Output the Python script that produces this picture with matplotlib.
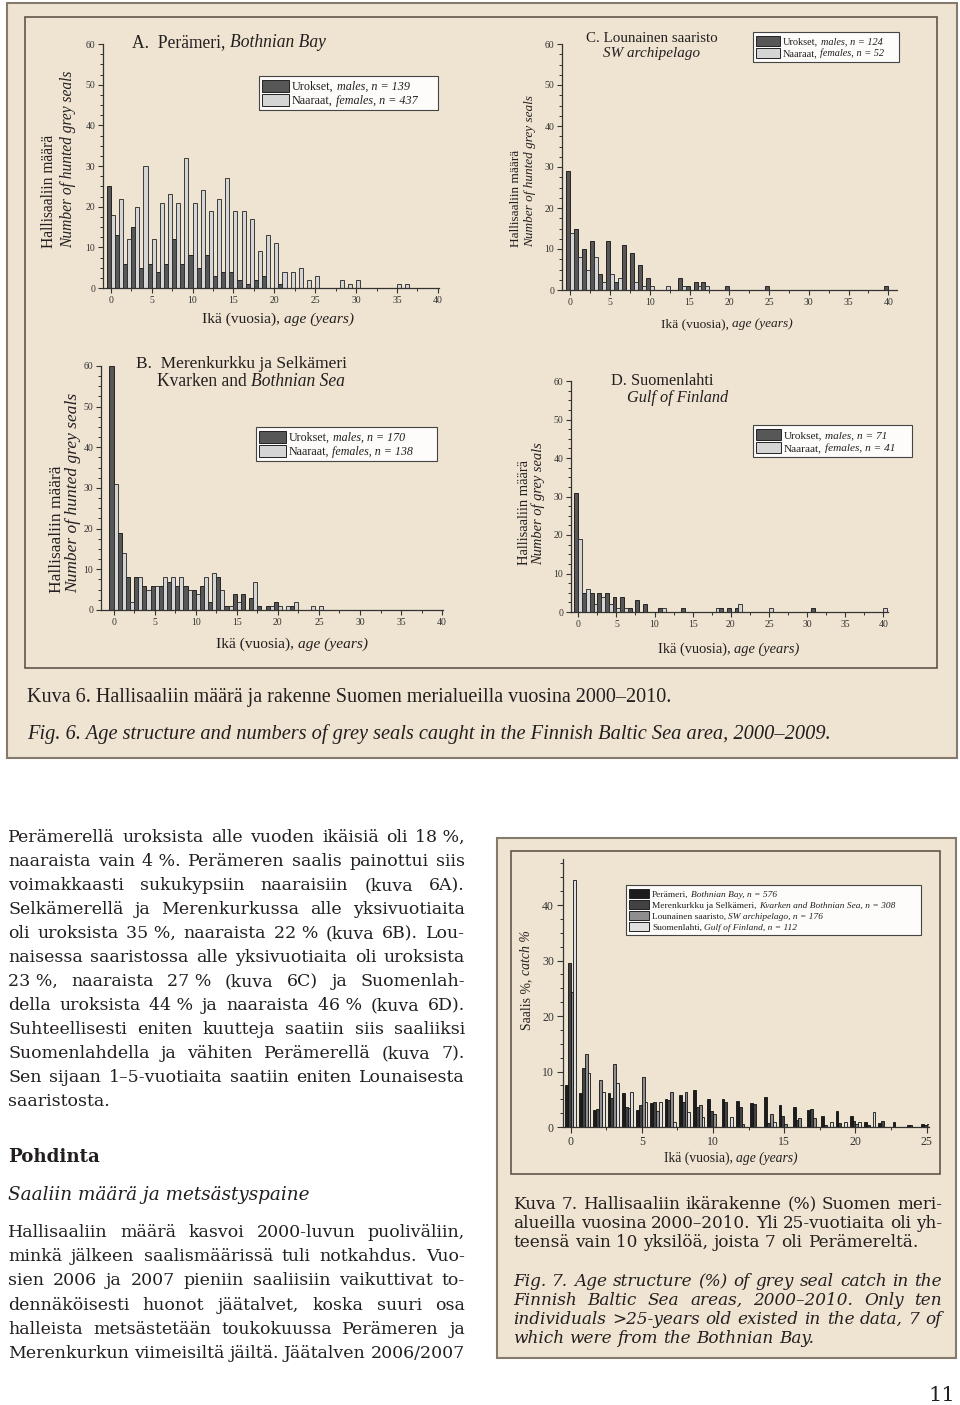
import numpy as np
import matplotlib
matplotlib.use('Agg')
import matplotlib.pyplot as plt
from matplotlib.patches import Rectangle
from matplotlib.ticker import MultipleLocator

# ==========================================
# DATA - hunted grey seals by age (0-40 years)
# ==========================================
ages = np.arange(41)

# A. Perämeri / Bothnian Bay
a_males = [25, 13, 6, 15, 5, 6, 4, 6, 12, 6, 8, 5, 8, 3, 4, 4, 2, 1, 2, 3,
           0, 1, 0, 0, 0, 0, 0, 0, 0, 0, 0, 0, 0, 0, 0, 0, 0, 0, 0, 0, 0]
a_females = [18, 22, 12, 20, 30, 12, 21, 23, 21, 32, 21, 24, 19, 22, 27, 19, 19, 17, 9, 13,
             11, 4, 4, 5, 2, 3, 0, 0, 2, 1, 2, 0, 0, 0, 0, 1, 1, 0, 0, 0, 0]

# B. Merenkurkku ja Selkämeri / Kvarken and Bothnian Sea
b_males = [60, 19, 8, 8, 6, 6, 6, 7, 6, 6, 5, 6, 2, 8, 1, 4, 4, 3, 1, 1,
           2, 0, 1, 0, 0, 0, 0, 0, 0, 0, 0, 0, 0, 0, 0, 0, 0, 0, 0, 0, 0]
b_females = [31, 14, 2, 8, 5, 6, 8, 8, 8, 5, 4, 8, 9, 5, 1, 2, 0, 7, 0, 1,
             1, 1, 2, 0, 1, 1, 0, 0, 0, 0, 0, 0, 0, 0, 0, 0, 0, 0, 0, 0, 0]

# C. Lounainen saaristo / SW archipelago
c_males = [29, 15, 10, 12, 4, 12, 2, 11, 9, 6, 3, 0, 0, 0, 3, 1, 2, 2, 0, 0,
           1, 0, 0, 0, 0, 1, 0, 0, 0, 0, 0, 0, 0, 0, 0, 0, 0, 0, 0, 0, 1]
c_females = [14, 8, 5, 8, 2, 4, 3, 0, 2, 1, 1, 0, 1, 0, 1, 0, 1, 1, 0, 0,
             0, 0, 0, 0, 0, 0, 0, 0, 0, 0, 0, 0, 0, 0, 0, 0, 0, 0, 0, 0, 0]

# D. Suomenlahti / Gulf of Finland
d_males = [31, 5, 5, 5, 5, 4, 4, 1, 3, 2, 0, 1, 0, 0, 1, 0, 0, 0, 0, 1,
           1, 1, 0, 0, 0, 0, 0, 0, 0, 0, 0, 1, 0, 0, 0, 0, 0, 0, 0, 0, 0]
d_females = [19, 6, 2, 4, 2, 1, 1, 0, 0, 0, 0, 1, 0, 0, 0, 0, 0, 0, 1, 0,
             0, 2, 0, 0, 0, 1, 0, 0, 0, 0, 0, 0, 0, 0, 0, 0, 0, 0, 0, 0, 1]

# Kuva 7 - catch % by age (0-25 years)
ages7 = np.arange(26)
pct_bothnian = [7.5, 6.1, 3.1, 6.1, 6.1, 3.1, 4.3, 5.0, 5.7, 6.6, 5.0, 5.0, 4.7,
                4.3, 5.4, 4.0, 3.6, 3.1, 1.9, 2.8, 1.9, 0.9, 0.7, 0.9, 0.35, 0.5]
pct_kvarken = [29.5, 10.7, 3.2, 5.2, 3.6, 3.9, 4.5, 4.9, 4.5, 3.6, 2.9, 4.5, 3.6,
               4.2, 0.65, 1.9, 1.3, 3.2, 0.3, 0.65, 1.0, 0.3, 1.0, 0, 0.3, 0.3]
pct_sw = [24.4, 13.1, 8.5, 11.4, 3.4, 9.1, 2.8, 6.25, 6.25, 4.0, 2.3, 0, 0.6,
          0, 2.3, 0.6, 1.7, 1.7, 0, 0, 0.6, 0, 0, 0, 0, 0.6]
pct_gulf = [44.6, 9.8, 6.25, 8.0, 6.25, 4.5, 4.5, 0.9, 2.7, 1.8, 0, 1.8, 0,
            0, 0.9, 0, 0, 0, 0.9, 0.9, 0.9, 2.7, 0, 0, 0, 0.9]

# ==========================================
# STYLE
# ==========================================
W, H = 960, 1405
BEIGE = '#efe4d1'
INK = '#231f20'
AXIS_C = '#333333'
MALE_C = '#575757'
FEMALE_C = '#d5d5d5'
AREA_C = ['#1c1c1c', '#424242', '#8e8e8e', '#e0e0e0']
TIMES = ['Liberation Serif', 'DejaVu Serif']
BOOK = ['DejaVu Serif']

plt.rcParams['font.family'] = TIMES

fig = plt.figure(figsize=(W / 100, H / 100), dpi=100)
fig.patch.set_facecolor('white')
R = fig.canvas.get_renderer()


def fx(x):
    return x / W


def fy(y):
    return 1 - y / H


def rect(x0, y0, x1, y1, fc, ec='none', lw=0, z=-1):
    fig.add_artist(Rectangle((fx(x0), fy(y1)), (x1 - x0) / W, (y1 - y0) / H,
                             transform=fig.transFigure, fc=fc, ec=ec, lw=lw, zorder=z))


def tw(s, size, style='normal', weight='normal', family=TIMES):
    t = fig.text(0, 0, s, fontsize=size, style=style, weight=weight, family=family)
    w = t.get_window_extent(R).width
    t.remove()
    return w


def measure(parts, size, family=TIMES):
    sp = tw('a a', size, family=family) - tw('aa', size, family=family)
    out = []
    for s, it in parts:
        st = 'italic' if it else 'normal'
        core = s.rstrip()
        out.append((core, st, tw(core, size, st, family=family), sp if s != core else 0))
    total = sum(w + g for _, _, w, g in out) - out[-1][3]
    return out, total


def rich(x, y, parts, size=10, ha='left', rot=0, fit=None, family=TIMES, z=5):
    # mixed roman / italic text, positioned in page pixels
    if fit:
        size *= fit / measure(parts, size, family)[1]
    items, total = measure(parts, size, family)
    pos = -{'left': 0, 'center': total / 2, 'right': total}[ha]
    for s, st, w, g in items:
        if rot:
            fig.text(fx(x), fy(y - pos), s, fontsize=size, style=st, color=INK, family=family,
                     rotation=90, rotation_mode='anchor', ha='left', va='center', zorder=z)
        else:
            fig.text(fx(x + pos), fy(y), s, fontsize=size, style=st, color=INK, family=family,
                     ha='left', va='baseline', zorder=z)
        pos += w + g
    return size


def fill_size(blocks, width, ref=12):
    # largest size at which every justified line still fits the column
    best = 99
    for lines, style, loose in blocks:
        for i, line in enumerate(lines):
            if i not in loose:
                best = min(best, ref * width / tw(line, ref, style, family=BOOK))
    return best


def paragraph(lines, x0, x1, y0, dy, size, style='normal', loose=()):
    # justified block text, lines in `loose` are left aligned
    sp = tw('a a', size, style, family=BOOK) - tw('aa', size, style, family=BOOK)
    for i, line in enumerate(lines):
        words = line.split(' ')
        ws = [tw(w, size, style, family=BOOK) for w in words]
        if i in loose or len(words) == 1:
            gap = sp
        else:
            gap = (x1 - x0 - sum(ws)) / (len(words) - 1)
        x = x0
        for w, wd in zip(words, ws):
            fig.text(fx(x), fy(y0 + i * dy), w, fontsize=size, style=style,
                     family=BOOK, color=INK, va='baseline')
            x += wd + gap


def make_axes(l, t, r, b, xlim, ylim, labelsize):
    ax = fig.add_axes([fx(l), fy(b), (r - l) / W, (b - t) / H])
    ax.set_facecolor('none')
    ax.set_xlim(*xlim)
    ax.set_ylim(*ylim)
    ax.spines[['top', 'right']].set_visible(False)
    for s in ['left', 'bottom']:
        ax.spines[s].set_linewidth(0.9)
        ax.spines[s].set_color(AXIS_C)
    ax.xaxis.set_major_locator(MultipleLocator(5))
    ax.xaxis.set_minor_locator(MultipleLocator(2.5))
    ax.yaxis.set_major_locator(MultipleLocator(10))
    ax.yaxis.set_minor_locator(MultipleLocator(2.5))
    ax.tick_params(which='major', length=3.5, width=0.8, labelsize=labelsize, pad=2,
                   colors=AXIS_C)
    ax.tick_params(which='minor', length=2, width=0.7, colors=AXIS_C)
    return ax


def age_panel(box, xlim, males, females):
    ax = make_axes(*box, xlim, (0, 60), 7)
    m = np.array(males)
    f = np.array(females)
    ax.bar(ages[m > 0] - 0.25, m[m > 0], 0.5, color=MALE_C, edgecolor='#111111', linewidth=0.6)
    ax.bar(ages[f > 0] + 0.25, f[f > 0], 0.5, color=FEMALE_C, edgecolor='#222222', linewidth=0.6)
    return ax


def legend(x0, y0, x1, y1, entries, colors, fit, pw, pad=3):
    rect(x0, y0, x1, y1, '#fdfcfa', ec='#444444', lw=0.8, z=3)
    size = 8 * fit / measure(entries[0], 8)[1]
    h = (y1 - y0 - 2 * pad) / len(entries)
    for i, (parts, c) in enumerate(zip(entries, colors)):
        top = y0 + pad + i * h
        rect(x0 + pad, top + 0.8, x0 + pad + pw, top + h - 0.8, c, ec='#222222', lw=0.7, z=4)
        rich(x0 + pad + pw + 3, top + h / 2 + 0.33 * size * 100 / 72, parts, size)


# ==========================================
# KUVA 6 - frame and four panels
# ==========================================
rect(7, 3, 957, 758, BEIGE, ec='#857b6d', lw=1.5, z=-3)
rect(25, 17, 937, 668, 'none', ec='#5f564a', lw=1.2, z=-2)

age_panel((103, 44, 439, 288), (-0.94, 40.13), a_males, a_females)
age_panel((562, 44, 897, 290), (-1.05, 41.1), c_males, c_females)
age_panel((101, 366, 443, 610), (-1.53, 40.1), b_males, b_females)
age_panel((571, 381, 888, 612), (-0.95, 40.6), d_males, d_females)

# titles
rich(132, 47, [("A.  Perämeri, ", False), ("Bothnian Bay", True)], fit=194)
rich(652, 42, [("C. Lounainen saaristo", False)], ha='center', fit=131)
rich(652, 57, [("SW archipelago", True)], ha='center', fit=97)
rich(136, 368, [("B.  Merenkurkku ja Selkämeri", False)], fit=211)
rich(157, 386, [("Kvarken and ", False), ("Bothnian Sea", True)], fit=190)
rich(611, 385, [("D. Suomenlahti", False)], fit=102)
rich(627, 402, [("Gulf of Finland", True)], fit=102)

# axis labels
xlab = [("Ikä (vuosia), ", False), ("age (years)", True)]
rich(278, 323, xlab, ha='center', fit=151)
rich(727, 327, xlab, ha='center', fit=131)
rich(292, 648, xlab, ha='center', fit=151)
rich(729, 653, xlab, ha='center', fit=142)

for xr, xi, y0, n, txt in [(49, 68, 248, 178, "Number of hunted grey seals"),
                           (516, 530, 247, 152, "Number of hunted grey seals"),
                           (57, 73, 593, 200, "Number of hunted grey seals"),
                           (525, 538, 565, 123, "Number of grey seals")]:
    s = rich(xi, y0, [(txt, True)], rot=90, fit=n)
    rich(xr, y0, [("Hallisaaliin määrä", False)], s, rot=90)

# legends
legend(259, 76, 438, 110, [[("Urokset, ", False), ("males, n = 139", True)],
                           [("Naaraat, ", False), ("females, n = 437", True)]],
       [MALE_C, FEMALE_C], 118, 27)
legend(753, 32, 899, 62, [[("Urokset, ", False), ("males, n = 124", True)],
                          [("Naaraat, ", False), ("females, n = 52", True)]],
       [MALE_C, FEMALE_C], 100, 24)
legend(256, 427, 437, 461, [[("Urokset, ", False), ("males, n = 170", True)],
                            [("Naaraat, ", False), ("females, n = 138", True)]],
       [MALE_C, FEMALE_C], 117, 27)
legend(753, 425, 912, 457, [[("Urokset, ", False), ("males, n = 71", True)],
                            [("Naaraat, ", False), ("females, n = 41", True)]],
       [MALE_C, FEMALE_C], 103, 25)

rich(27, 702, [("Kuva 6. Hallisaaliin määrä ja rakenne Suomen merialueilla vuosina 2000–2010.", False)],
     fit=647)
rich(27, 739, [("Fig. 6. Age structure and numbers of grey seals caught in the Finnish Baltic Sea area, 2000–2009.", True)],
     fit=803)

# ==========================================
# KUVA 7 - catch %
# ==========================================
rect(497, 838, 956, 1358, BEIGE, ec='#857b6d', lw=1.5, z=-3)
rect(511, 851, 940, 1174, 'none', ec='#5f564a', lw=1.2, z=-2)

ax7 = make_axes(563, 859, 929, 1127, (-0.53, 25.16), (0, 48.3), 8.5)
ax7.tick_params(which='major', length=4.5)
for k, (vals, c) in enumerate(zip([pct_bothnian, pct_kvarken, pct_sw, pct_gulf], AREA_C)):
    v = np.array(vals)
    ax7.bar(ages7[v > 0] - 0.3 + 0.2 * k, v[v > 0], 0.2, color=c,
            edgecolor='#111111', linewidth=0.6)

legend(626, 885, 921, 935,
       [[("Perämeri, ", False), ("Bothnian Bay, n = 576", True)],
        [("Merenkurkku ja Selkämeri, ", False), ("Kvarken and Bothnian Sea, n = 308", True)],
        [("Lounainen saaristo, ", False), ("SW archipelago, n = 176", True)],
        [("Suomenlahti, ", False), ("Gulf of Finland, n = 112", True)]],
       AREA_C, 124, 20)

rich(731, 1162, xlab, ha='center', fit=134)
rich(527, 1030, [("Saalis %, ", False), ("catch %", True)], rot=90, fit=100)

kuva7 = ["Kuva 7. Hallisaaliin ikärakenne (%) Suomen meri-",
         "alueilla vuosina 2000–2010. Yli 25-vuotiaita oli yh-",
         "teensä vain 10 yksilöä, joista 7 oli Perämereltä."]
fig7 = ["Fig. 7. Age structure (%) of grey seal catch in the",
        "Finnish Baltic Sea areas, 2000–2010. Only ten",
        "individuals >25-years old existed in the data, 7 of",
        "which were from the Bothnian Bay."]
cap_size = fill_size([(kuva7, 'normal', (2,)), (fig7, 'italic', (3,))], 429)
paragraph(kuva7, 513, 942, 1209, 19, cap_size, loose=(2,))
paragraph(fig7, 513, 942, 1286, 19, cap_size, style='italic', loose=(3,))

# ==========================================
# BODY TEXT
# ==========================================
body1 = ["Perämerellä uroksista alle vuoden ikäisiä oli 18\u00a0%,",
         "naaraista vain 4\u00a0%. Perämeren saalis painottui siis",
         "voimakkaasti sukukypsiin naaraisiin (kuva 6A).",
         "Selkämerellä ja Merenkurkussa alle yksivuotiaita",
         "oli uroksista 35\u00a0%, naaraista 22\u00a0% (kuva 6B). Lou-",
         "naisessa saaristossa alle yksivuotiaita oli uroksista",
         "23\u00a0%, naaraista 27\u00a0% (kuva 6C) ja Suomenlah-",
         "della uroksista 44\u00a0% ja naaraista 46\u00a0% (kuva 6D).",
         "Suhteellisesti eniten kuutteja saatiin siis saaliiksi",
         "Suomenlahdella ja vähiten Perämerellä (kuva 7).",
         "Sen sijaan 1–5-vuotiaita saatiin eniten Lounaisesta",
         "saaristosta."]
body2 = ["Hallisaaliin määrä kasvoi 2000-luvun puoliväliin,",
         "minkä jälkeen saalismäärissä tuli notkahdus. Vuo-",
         "sien 2006 ja 2007 pieniin saaliisiin vaikuttivat to-",
         "dennäköisesti huonot jäätalvet, koska suuri osa",
         "halleista metsästetään toukokuussa Perämeren ja",
         "Merenkurkun viimeisiltä jäiltä. Jäätalven 2006/2007"]
body_size = fill_size([(body1, 'normal', (11,)), (body2, 'normal', ())], 457)
paragraph(body1, 8, 465, 842, 24, body_size, loose=(11,))
paragraph(body2, 8, 465, 1237, 24.2, body_size)

ps = 14 * 92 / tw("Pohdinta", 14, weight='bold', family=BOOK)
fig.text(fx(8), fy(1162), "Pohdinta", fontsize=ps, weight='bold', family=BOOK,
         color=INK, va='baseline')
rich(8, 1200, [("Saaliin määrä ja metsästyspaine", True)], fit=300, family=BOOK)

fig.text(fx(955), fy(1401), "11", fontsize=15, family=BOOK, color=INK, ha='right', va='baseline')

fig.savefig('out.png', dpi=100, facecolor='white')
